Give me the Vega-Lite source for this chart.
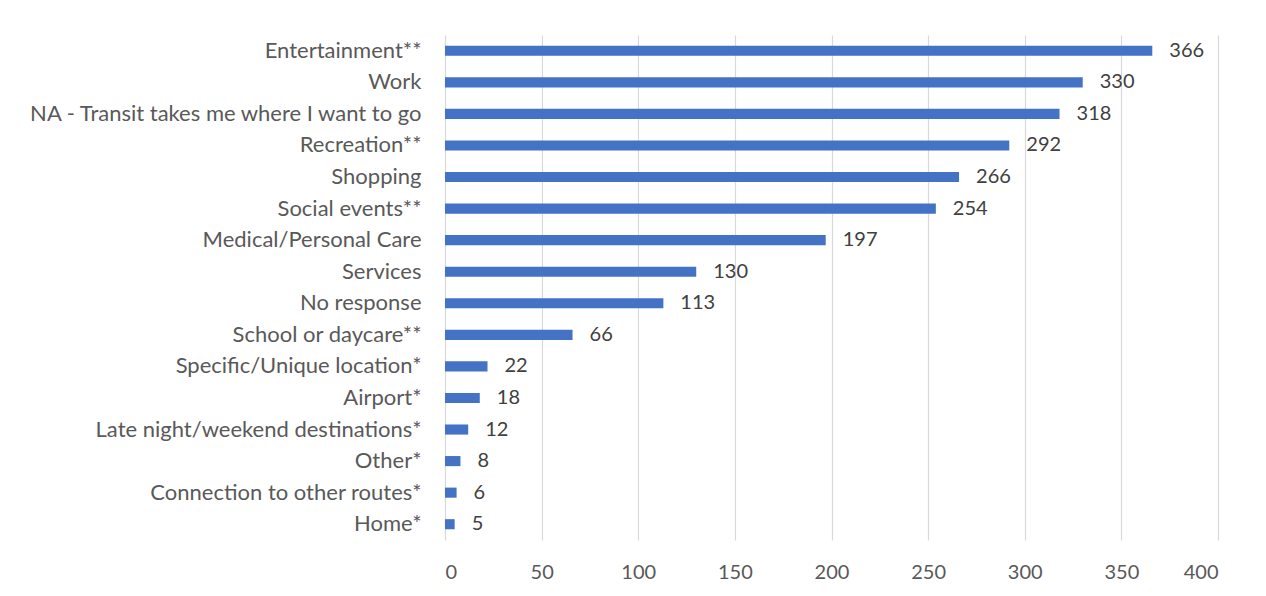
{
  "$schema": "https://vega.github.io/schema/vega-lite/v6.json",
  "width": 773,
  "height": 505,
  "autosize": "none",
  "padding": {"left": 445, "top": 35, "right": 48, "bottom": 56},
  "background": "white",
  "config": {"view": {"stroke": null}, "font": "Lato"},
  "data": {"values": [
    {"category": "Entertainment**", "count": 366},
    {"category": "Work", "count": 330},
    {"category": "NA - Transit takes me where I want to go", "count": 318},
    {"category": "Recreation**", "count": 292},
    {"category": "Shopping", "count": 266},
    {"category": "Social events**", "count": 254},
    {"category": "Medical/Personal Care", "count": 197},
    {"category": "Services", "count": 130},
    {"category": "No response", "count": 113},
    {"category": "School or daycare**", "count": 66},
    {"category": "Specific/Unique location*", "count": 22},
    {"category": "Airport*", "count": 18},
    {"category": "Late night/weekend destinations*", "count": 12},
    {"category": "Other*", "count": 8},
    {"category": "Connection to other routes*", "count": 6},
    {"category": "Home*", "count": 5}
  ]},
  "encoding": {
    "y": {
      "field": "category", "type": "nominal", "sort": null,
      "scale": {"paddingInner": 0.68, "paddingOuter": 0.34},
      "axis": {"title": null, "ticks": false, "domain": false, "labelPadding": 24, "labelFontSize": 22, "labelColor": "#595959", "labelFont": "Lato", "labelLimit": 500}
    },
    "x": {
      "field": "count", "type": "quantitative",
      "scale": {"domain": [0, 400], "nice": false},
      "axis": {"title": null, "values": [0,50,100,150,200,250,300,350,400], "ticks": false, "domain": false, "grid": true, "gridColor": "#d9d9d9", "gridWidth": 1.2, "labelPadding": 22, "labelFontSize": 20, "labelColor": "#595959", "labelFont": "Lato"}
    }
  },
  "layer": [
    {"mark": {"type": "bar", "color": "#4472C4"}},
    {"mark": {"type": "text", "align": "left", "baseline": "middle", "dx": 17, "fontSize": 20, "color": "#404040", "font": "Lato"},
     "encoding": {"text": {"field": "count", "type": "quantitative"}}}
  ]
}
